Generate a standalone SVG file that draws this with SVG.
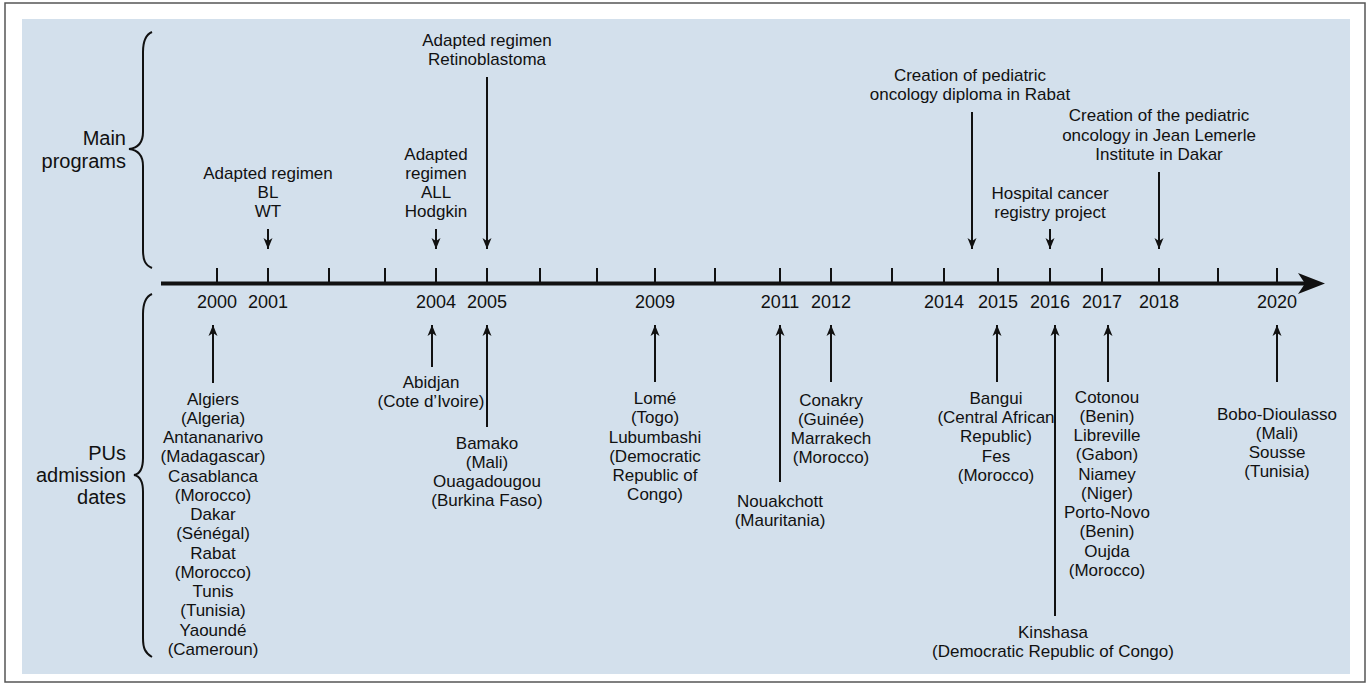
<svg xmlns="http://www.w3.org/2000/svg" width="1368" height="688" viewBox="0 0 1368 688">
<style>
text{font-family:"Liberation Sans",Arial,sans-serif;fill:#111;text-anchor:middle}
.t{font-size:17px}
.y{font-size:18px}
.s{font-size:20px;text-anchor:end}
.c{stroke:#111;stroke-width:2;fill:none}
.tick{stroke:#111;stroke-width:2}
.br{stroke:#111;stroke-width:2;fill:none}
</style>
<defs>
<marker id="ah" markerUnits="userSpaceOnUse" markerWidth="12" markerHeight="10" viewBox="0 0 12 10" refX="11" refY="5" orient="auto">
<path d="M0,0.5 L11,5 L0,9.5 L3,5 Z" fill="#111"/>
</marker>
</defs>
<rect x="5" y="3" width="1360" height="679" fill="#fff" stroke="#555" stroke-width="1.5"/>
<rect x="22" y="19" width="1328" height="655" fill="#d3e0ec"/>

<g id="labels">
<text class="s" x="126" y="145">Main</text>
<text class="s" x="126" y="168">programs</text>
<text class="s" x="126" y="460">PUs</text>
<text class="s" x="126" y="482">admission</text>
<text class="s" x="126" y="504">dates</text>
</g>

<g id="braces">
<path class="br" d="M152,32 C145,35 143,42 143,52 L143,132 C143,143 138,148 129,149 C138,150 143,155 143,166 L143,250 C143,260 145,265 152,268"/>
<path class="br" d="M152,294 C145,297 143,304 143,314 L143,458 C143,469 140,474 134,475 C140,476 143,481 143,492 L143,638 C143,648 145,653 152,657"/>
</g>

<g id="timeline">
<line x1="161" y1="283.5" x2="1305" y2="283.5" stroke="#111" stroke-width="4"/>
<path d="M1325,283.5 L1298,273 L1305,283.5 L1298,294 Z" fill="#111"/>
<g class="tick">
<line x1="217" y1="268" x2="217" y2="283"/>
<line x1="268" y1="268" x2="268" y2="283"/>
<line x1="329" y1="268" x2="329" y2="283"/>
<line x1="385" y1="268" x2="385" y2="283"/>
<line x1="436" y1="268" x2="436" y2="283"/>
<line x1="487" y1="268" x2="487" y2="283"/>
<line x1="540" y1="268" x2="540" y2="283"/>
<line x1="597" y1="268" x2="597" y2="283"/>
<line x1="655" y1="268" x2="655" y2="283"/>
<line x1="715" y1="268" x2="715" y2="283"/>
<line x1="780" y1="268" x2="780" y2="283"/>
<line x1="831" y1="268" x2="831" y2="283"/>
<line x1="892" y1="268" x2="892" y2="283"/>
<line x1="944" y1="268" x2="944" y2="283"/>
<line x1="998" y1="268" x2="998" y2="283"/>
<line x1="1050" y1="268" x2="1050" y2="283"/>
<line x1="1102" y1="268" x2="1102" y2="283"/>
<line x1="1159" y1="268" x2="1159" y2="283"/>
<line x1="1218" y1="268" x2="1218" y2="283"/>
<line x1="1277" y1="268" x2="1277" y2="283"/>
</g>
<g>
<text class="y" x="217" y="308">2000</text>
<text class="y" x="268" y="308">2001</text>
<text class="y" x="436" y="308">2004</text>
<text class="y" x="487" y="308">2005</text>
<text class="y" x="655" y="308">2009</text>
<text class="y" x="780" y="308">2011</text>
<text class="y" x="831" y="308">2012</text>
<text class="y" x="944" y="308">2014</text>
<text class="y" x="998" y="308">2015</text>
<text class="y" x="1050" y="308">2016</text>
<text class="y" x="1102" y="308">2017</text>
<text class="y" x="1159" y="308">2018</text>
<text class="y" x="1277" y="308">2020</text>
</g>
</g>

<g id="connectors">
<line class="c" x1="268" y1="229" x2="268" y2="249" marker-end="url(#ah)"/>
<line class="c" x1="436" y1="229" x2="436" y2="249" marker-end="url(#ah)"/>
<line class="c" x1="487" y1="77" x2="487" y2="249" marker-end="url(#ah)"/>
<line class="c" x1="972" y1="112" x2="972" y2="249" marker-end="url(#ah)"/>
<line class="c" x1="1050" y1="229" x2="1050" y2="249" marker-end="url(#ah)"/>
<line class="c" x1="1159" y1="172" x2="1159" y2="249" marker-end="url(#ah)"/>

<line class="c" x1="213" y1="383" x2="213" y2="325" marker-end="url(#ah)"/>
<line class="c" x1="432" y1="367" x2="432" y2="325" marker-end="url(#ah)"/>
<line class="c" x1="487" y1="427" x2="487" y2="325" marker-end="url(#ah)"/>
<line class="c" x1="655" y1="382" x2="655" y2="325" marker-end="url(#ah)"/>
<line class="c" x1="780" y1="482" x2="780" y2="325" marker-end="url(#ah)"/>
<line class="c" x1="831" y1="382" x2="831" y2="325" marker-end="url(#ah)"/>
<line class="c" x1="997" y1="382" x2="997" y2="325" marker-end="url(#ah)"/>
<line class="c" x1="1055" y1="616" x2="1055" y2="325" marker-end="url(#ah)"/>
<line class="c" x1="1108" y1="382" x2="1108" y2="325" marker-end="url(#ah)"/>
<line class="c" x1="1277" y1="382" x2="1277" y2="325" marker-end="url(#ah)"/>
</g>

<g id="prog-2001">
<text class="t" x="268" y="179">Adapted regimen</text>
<text class="t" x="268" y="198">BL</text>
<text class="t" x="268" y="217">WT</text>
</g>
<g id="prog-2004">
<text class="t" x="436" y="160">Adapted</text>
<text class="t" x="436" y="179">regimen</text>
<text class="t" x="436" y="198">ALL</text>
<text class="t" x="436" y="217">Hodgkin</text>
</g>
<g id="prog-2005">
<text class="t" x="487" y="46">Adapted regimen</text>
<text class="t" x="487" y="65">Retinoblastoma</text>
</g>
<g id="prog-2014">
<text class="t" x="970" y="81">Creation of pediatric</text>
<text class="t" x="970" y="100">oncology diploma in Rabat</text>
</g>
<g id="prog-2016">
<text class="t" x="1050" y="199">Hospital cancer</text>
<text class="t" x="1050" y="218">registry project</text>
</g>
<g id="prog-2018">
<text class="t" x="1159" y="121">Creation of the pediatric</text>
<text class="t" x="1159" y="141">oncology in Jean Lemerle</text>
<text class="t" x="1159" y="160">Institute in Dakar</text>
</g>

<g id="pu-2000">
<text class="t" x="213" y="405">Algiers</text>
<text class="t" x="213" y="424">(Algeria)</text>
<text class="t" x="213" y="443">Antananarivo</text>
<text class="t" x="213" y="462">(Madagascar)</text>
<text class="t" x="213" y="482">Casablanca</text>
<text class="t" x="213" y="501">(Morocco)</text>
<text class="t" x="213" y="520">Dakar</text>
<text class="t" x="213" y="539">(Sénégal)</text>
<text class="t" x="213" y="559">Rabat</text>
<text class="t" x="213" y="578">(Morocco)</text>
<text class="t" x="213" y="597">Tunis</text>
<text class="t" x="213" y="616">(Tunisia)</text>
<text class="t" x="213" y="636">Yaoundé</text>
<text class="t" x="213" y="655">(Cameroun)</text>
</g>
<g id="pu-2004">
<text class="t" x="431" y="388">Abidjan</text>
<text class="t" x="431" y="407">(Cote d’Ivoire)</text>
</g>
<g id="pu-2005">
<text class="t" x="487" y="449">Bamako</text>
<text class="t" x="487" y="468">(Mali)</text>
<text class="t" x="487" y="487">Ouagadougou</text>
<text class="t" x="487" y="506">(Burkina Faso)</text>
</g>
<g id="pu-2009">
<text class="t" x="655" y="404">Lomé</text>
<text class="t" x="655" y="423">(Togo)</text>
<text class="t" x="655" y="443">Lubumbashi</text>
<text class="t" x="655" y="462">(Democratic</text>
<text class="t" x="655" y="481">Republic of</text>
<text class="t" x="655" y="500">Congo)</text>
</g>
<g id="pu-2011">
<text class="t" x="780" y="507">Nouakchott</text>
<text class="t" x="780" y="526">(Mauritania)</text>
</g>
<g id="pu-2012">
<text class="t" x="831" y="406">Conakry</text>
<text class="t" x="831" y="425">(Guinée)</text>
<text class="t" x="831" y="444">Marrakech</text>
<text class="t" x="831" y="463">(Morocco)</text>
</g>
<g id="pu-2015">
<text class="t" x="996" y="404">Bangui</text>
<text class="t" x="996" y="423">(Central African</text>
<text class="t" x="996" y="442">Republic)</text>
<text class="t" x="996" y="462">Fes</text>
<text class="t" x="996" y="481">(Morocco)</text>
</g>
<g id="pu-2016">
<text class="t" x="1053" y="638">Kinshasa</text>
<text class="t" x="1053" y="657">(Democratic Republic of Congo)</text>
</g>
<g id="pu-2017">
<text class="t" x="1107" y="403">Cotonou</text>
<text class="t" x="1107" y="422">(Benin)</text>
<text class="t" x="1107" y="441">Libreville</text>
<text class="t" x="1107" y="460">(Gabon)</text>
<text class="t" x="1107" y="480">Niamey</text>
<text class="t" x="1107" y="499">(Niger)</text>
<text class="t" x="1107" y="518">Porto-Novo</text>
<text class="t" x="1107" y="537">(Benin)</text>
<text class="t" x="1107" y="557">Oujda</text>
<text class="t" x="1107" y="576">(Morocco)</text>
</g>
<g id="pu-2020">
<text class="t" x="1277" y="420">Bobo-Dioulasso</text>
<text class="t" x="1277" y="439">(Mali)</text>
<text class="t" x="1277" y="458">Sousse</text>
<text class="t" x="1277" y="477">(Tunisia)</text>
</g>
</svg>
